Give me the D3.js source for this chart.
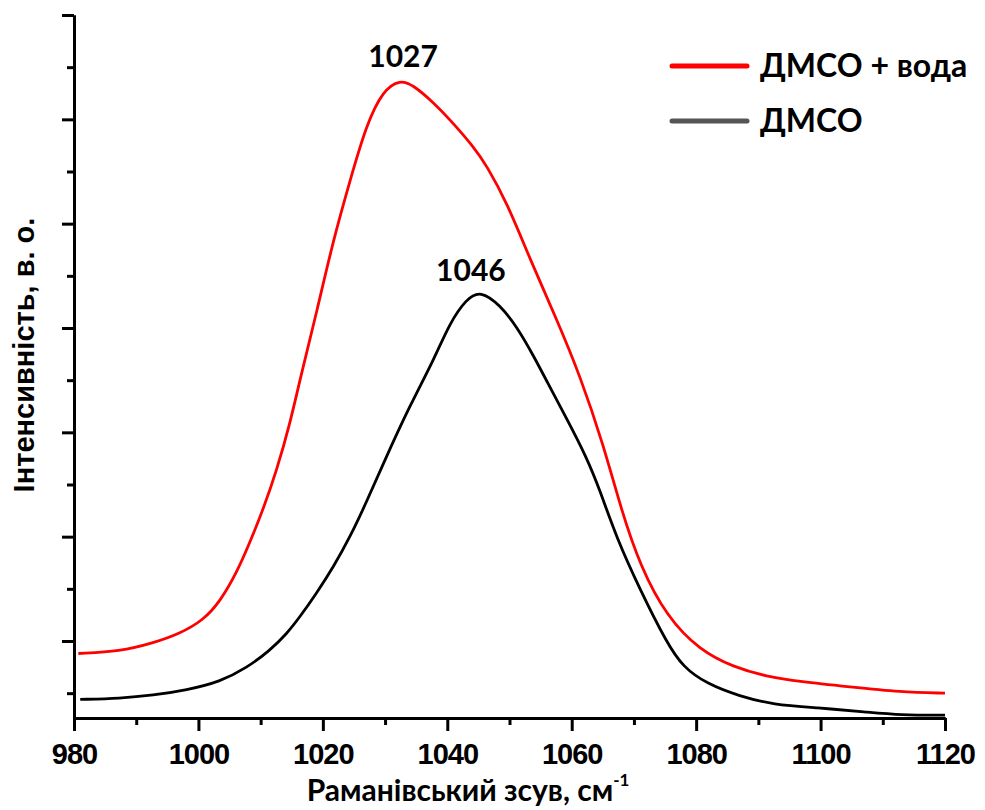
<!DOCTYPE html>
<html>
<head>
<meta charset="utf-8">
<script src="https://cdn.jsdelivr.net/npm/d3@7"></script>
<style>
  body { margin: 0; background: #fff; }
  svg { display: block; }
</style>
</head>
<body>
<div id="chart"></div>
<script>
// Raman shift (cm-1) and intensity (a.u.)
var redX = [980.7, 987.4, 992.7, 997.0, 1000.8, 1003.5, 1006.2, 1008.3, 1010.4, 1012.6, 1014.7, 1016.3, 1019.0, 1021.7, 1024.4, 1027.0, 1029.7, 1032.4, 1034.5, 1037.8, 1040.4, 1044.2, 1046.3, 1049.6, 1053.3, 1057.6, 1061.3, 1065.1, 1068.0, 1071.0, 1075.3, 1080.6, 1086.0, 1091.3, 1096.7, 1104.7, 1112.8, 1120];
var redY = [0.88, 0.90, 0.98, 1.07, 1.20, 1.38, 1.66, 1.95, 2.26, 2.64, 3.08, 3.50, 4.15, 4.85, 5.42, 5.95, 6.28, 6.38, 6.33, 6.16, 6.00, 5.74, 5.56, 5.20, 4.66, 4.08, 3.55, 2.88, 2.25, 1.72, 1.23, 0.91, 0.75, 0.66, 0.61, 0.56, 0.51, 0.50];

var blackX = [981.0, 987.4, 992.7, 998.1, 1003.5, 1007.7, 1011.5, 1014.2, 1016.3, 1019.0, 1021.7, 1024.4, 1027.0, 1029.7, 1034.0, 1037.8, 1040.4, 1043.1, 1045.3, 1048.5, 1051.2, 1053.8, 1056.0, 1059.2, 1062.4, 1064.5, 1067.2, 1071.0, 1075.3, 1077.9, 1081.7, 1087.0, 1092.4, 1099.4, 1107.4, 1112.8, 1120];
var blackY = [0.44, 0.45, 0.48, 0.53, 0.61, 0.74, 0.91, 1.07, 1.23, 1.46, 1.71, 2.00, 2.33, 2.70, 3.26, 3.69, 4.05, 4.28, 4.36, 4.22, 4.01, 3.74, 3.49, 3.13, 2.76, 2.45, 1.99, 1.49, 0.98, 0.75, 0.59, 0.47, 0.39, 0.36, 0.32, 0.29, 0.29];

var seriesNames = ['ДМСО + вода', 'ДМСО'];
var xTicks = [980, 1000, 1020, 1040, 1060, 1080, 1100, 1120];
var xMinor = [990, 1010, 1030, 1050, 1070, 1090, 1110];
var yTicks = [1, 2, 3, 4, 5, 6, 7];
var yMinor = [0.5, 1.5, 2.5, 3.5, 4.5, 5.5, 6.5];
var peakLabels = ['1027', '1046'];
var peakLabelX = [1032.9, 1043.8];
var peakLabelY = [6.50, 4.45];

var width = 985, height = 810;
var margin = {top: 15, right: 40, bottom: 92, left: 74};
var labelFont = '"Lato", "Open Sans", sans-serif';
var tickFont = '"Liberation Sans", Arial, sans-serif';

var svg = d3.select('#chart').append('svg')
  .attr('width', width)
  .attr('height', height);

var x = d3.scaleLinear().domain([980, 1120]).range([margin.left, width - margin.right]);
var y = d3.scaleLinear().domain([0.262, 7]).range([height - margin.bottom, margin.top]);

var line = d3.line()
  .x(function(d) { return x(d[0]); })
  .y(function(d) { return y(d[1]); })
  .curve(d3.curveBasis);

var redData = d3.zip(redX, redY);
var blackData = d3.zip(blackX, blackY);

svg.append('path')
  .datum(blackData)
  .attr('d', line)
  .attr('fill', 'none')
  .attr('stroke', '#000')
  .attr('stroke-width', 2.8);

svg.append('path')
  .datum(redData)
  .attr('d', line)
  .attr('fill', 'none')
  .attr('stroke', '#ff0000')
  .attr('stroke-width', 2.8);

// axes
var xAxis = svg.append('g')
  .attr('transform', 'translate(0,' + (height - margin.bottom) + ')')
  .call(d3.axisBottom(x).tickValues(xTicks).tickSize(13).tickSizeOuter(0).tickPadding(12).tickFormat(d3.format('d')));
svg.append('g')
  .attr('transform', 'translate(0,' + (height - margin.bottom) + ')')
  .call(d3.axisBottom(x).tickValues(xMinor).tickSize(7).tickSizeOuter(0).tickFormat(''));

svg.append('g')
  .attr('transform', 'translate(' + margin.left + ',0)')
  .call(d3.axisLeft(y).tickValues(yTicks).tickSize(12).tickSizeOuter(0).tickFormat(''));
svg.append('g')
  .attr('transform', 'translate(' + margin.left + ',0)')
  .call(d3.axisLeft(y).tickValues(yMinor).tickSize(7).tickSizeOuter(0).tickFormat(''));

svg.selectAll('.domain').attr('stroke', '#000').attr('stroke-width', 3);
svg.selectAll('.tick line').attr('stroke', '#000').attr('stroke-width', 3);

xAxis.selectAll('text')
  .attr('fill', '#000')
  .style('font-family', tickFont)
  .style('font-weight', 'bold')
  .style('font-size', '29px')
  .style('letter-spacing', '-1px');

// axis titles
var xTitle = svg.append('text')
  .attr('x', 468)
  .attr('y', 801)
  .attr('text-anchor', 'middle')
  .style('font-family', labelFont)
  .style('font-weight', 'bold')
  .style('font-size', '30px')
  .attr('fill', '#000');
xTitle.append('tspan').text('Раманівський зсув, см');
xTitle.append('tspan').attr('dy', -15).style('font-size', '17px').text('-1');

svg.append('text')
  .attr('transform', 'translate(34,355) rotate(-90)')
  .attr('text-anchor', 'middle')
  .style('font-family', tickFont)
  .style('font-weight', 'bold')
  .style('font-size', '29px')
  .attr('fill', '#000')
  .text('Інтенсивність, в. о.');

// peak labels
svg.selectAll('.peak')
  .data(peakLabels)
  .enter()
  .append('text')
  .attr('class', 'peak')
  .attr('x', function(d, i) { return x(peakLabelX[i]); })
  .attr('y', function(d, i) { return y(peakLabelY[i]); })
  .attr('text-anchor', 'middle')
  .style('font-family', labelFont)
  .style('font-weight', 'bold')
  .style('font-size', '30px')
  .attr('fill', '#000')
  .text(function(d) { return d; });

// legend
var legendColor = ['#ff0000', '#555555'];
var legend = svg.selectAll('.legend')
  .data(seriesNames)
  .enter()
  .append('g')
  .attr('class', 'legend')
  .attr('transform', function(d, i) { return 'translate(672,' + (66 + i * 55) + ')'; });
legend.append('line')
  .attr('x1', 0).attr('x2', 75)
  .attr('stroke', function(d, i) { return legendColor[i]; })
  .attr('stroke-width', 5)
  .attr('stroke-linecap', 'round');
legend.append('text')
  .attr('x', 88)
  .attr('y', 11)
  .style('font-family', labelFont)
  .style('font-weight', 'bold')
  .style('font-size', '32px')
  .attr('fill', '#000')
  .text(function(d) { return d; });
</script>
</body>
</html>
